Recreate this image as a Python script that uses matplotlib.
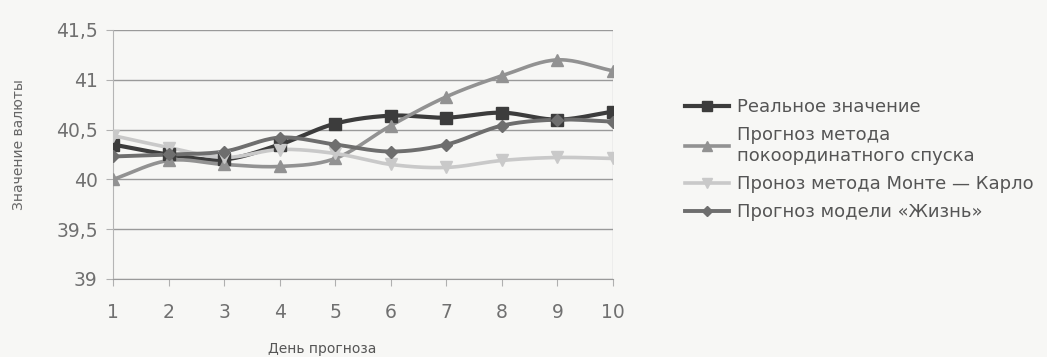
import numpy as np
import matplotlib
matplotlib.use("Agg")
import matplotlib.pyplot as plt

# days of the forecast
days = [1, 2, 3, 4, 5, 6, 7, 8, 9, 10]

# currency values
real_values = [40.35, 40.25, 40.20, 40.35, 40.56, 40.64, 40.62, 40.67, 40.60, 40.68]
coord_descent = [40.00, 40.19, 40.15, 40.13, 40.21, 40.54, 40.83, 41.04, 41.20, 41.09]
monte_carlo = [40.44, 40.32, 40.22, 40.30, 40.26, 40.15, 40.12, 40.19, 40.22, 40.21]
life_model = [40.23, 40.25, 40.28, 40.42, 40.35, 40.28, 40.35, 40.54, 40.60, 40.58]

series_labels = [
    "Реальное значение",
    "Прогноз метода\nпокоординатного спуска",
    "Проноз метода Монте — Карло",
    "Прогноз модели «Жизнь»",
]
y_ticks = [39, 39.5, 40, 40.5, 41, 41.5]
y_ticklabels = ["39", "39,5", "40", "40,5", "41", "41,5"]


def smooth(x, y, n=20):
    # Catmull-Rom curve through the points, like Excel's smoothed line
    x = np.asarray(x, float)
    y = np.asarray(y, float)
    px = np.concatenate([[2 * x[0] - x[1]], x, [2 * x[-1] - x[-2]]])
    py = np.concatenate([[2 * y[0] - y[1]], y, [2 * y[-1] - y[-2]]])
    xs, ys = [], []
    t = np.linspace(0, 1, n)
    for i in range(1, len(px) - 2):
        for p, out in ((px, xs), (py, ys)):
            p0, p1, p2, p3 = p[i - 1], p[i], p[i + 1], p[i + 2]
            out.append(0.5 * (2 * p1 + (-p0 + p2) * t
                              + (2 * p0 - 5 * p1 + 4 * p2 - p3) * t ** 2
                              + (-p0 + 3 * p1 - 3 * p2 + p3) * t ** 3))
    return np.concatenate(xs), np.concatenate(ys)


plt.rcParams["font.family"] = ["DejaVu Sans"]

fig = plt.figure(figsize=(10.47, 3.57), dpi=100, facecolor="#f7f7f5")
ax = fig.add_axes([0.108, 0.2185, 0.4775, 0.6975])
ax.set_facecolor("#f7f7f5")

styles = [
    (real_values, "#3c3c3c", "s", 8, 3.0),
    (coord_descent, "#929292", "^", 8, 2.6),
    (monte_carlo, "#c9c9c9", "v", 8, 2.6),
    (life_model, "#6e6e6e", "D", 6, 2.8),
]

handles = []
for (vals, color, marker, ms, lw), label in zip(styles, series_labels):
    sx, sy = smooth(days, vals)
    ax.plot(sx, sy, color=color, lw=lw, zorder=3)
    ax.plot(days, vals, ls="none", marker=marker, ms=ms, color=color,
            markeredgecolor=color, zorder=4)
    h, = ax.plot([], [], color=color, lw=lw, marker=marker, ms=ms - 1, label=label)
    handles.append(h)

ax.set_xlim(1, 10)
ax.set_ylim(39, 41.5)
ax.set_xticks(days)
ax.set_yticks(y_ticks)
ax.set_yticklabels(y_ticklabels)
ax.grid(axis="y", color="#9a9a9a", lw=1.0)
for side in ["top", "right"]:
    ax.spines[side].set_visible(False)
ax.spines["left"].set_color("#b5b5b5")
ax.spines["bottom"].set_color("#9a9a9a")
ax.axvline(10, color="#c8c8c8", lw=1.0, zorder=1)
ax.tick_params(axis="both", colors="#b0b0b0", labelcolor="#707070",
               labelsize=13.5, length=5)
ax.tick_params(axis="x", pad=12)
ax.tick_params(axis="y", pad=6)

ax.set_xlabel("День прогноза", fontsize=10, color="#555555")
ax.xaxis.set_label_coords(0.418, -0.255)
ax.set_ylabel("Значение валюты", fontsize=10, color="#666666")
ax.yaxis.set_label_coords(-0.175, 0.54)

fig.legend(handles=handles, loc="upper left", bbox_to_anchor=(0.639, 0.77),
           frameon=False, fontsize=13, labelcolor="#555555",
           handlelength=2.4, handletextpad=0.45, labelspacing=0.55)

fig.savefig("out.png", dpi=100, facecolor=fig.get_facecolor())
